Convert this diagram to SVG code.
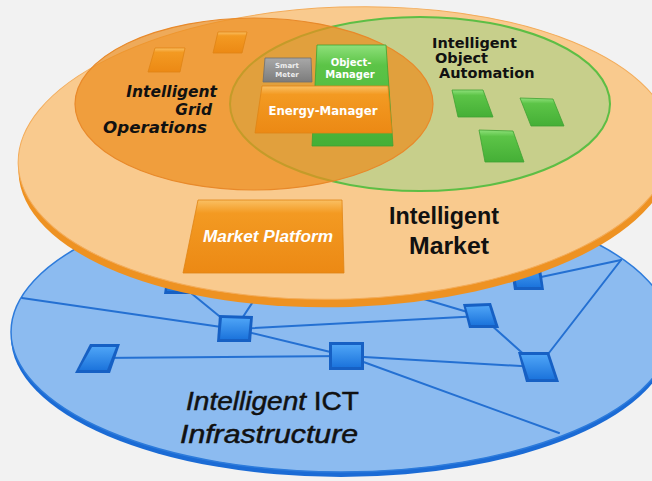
<svg xmlns="http://www.w3.org/2000/svg" width="652" height="481" viewBox="0 0 652 481">
<defs>
<style>
.lbl{font-family:"Liberation Sans",Arial,sans-serif;fill:#111}
.v{font-family:"DejaVu Sans",Verdana,sans-serif;font-weight:bold}
.w{fill:#fff}
.net{stroke:#2470D2;stroke-width:2;fill:none;stroke-linecap:round}
.bo{fill:#1660C4}
.bi{fill:url(#gBl)}
.og{fill:url(#gOr);stroke:#E08414;stroke-width:0.8}
.gg{fill:url(#gGr);stroke:#3FA232;stroke-width:0.8}
</style>
<linearGradient id="gOr" x1="0" y1="0" x2="0" y2="1">
<stop offset="0" stop-color="#FAC063"/><stop offset="0.18" stop-color="#F39A22"/><stop offset="1" stop-color="#EC8914"/>
</linearGradient>
<linearGradient id="gGr" x1="0" y1="0" x2="0" y2="1">
<stop offset="0" stop-color="#8EE07A"/><stop offset="0.2" stop-color="#5CC447"/><stop offset="1" stop-color="#45AF36"/>
</linearGradient>
<linearGradient id="gBl" x1="0" y1="0" x2="0" y2="1">
<stop offset="0" stop-color="#4EA4F6"/><stop offset="1" stop-color="#1C74DC"/>
</linearGradient>
<linearGradient id="gGy" x1="0" y1="0" x2="0" y2="1">
<stop offset="0" stop-color="#A8A8A8"/><stop offset="1" stop-color="#7C7C7C"/>
</linearGradient>
</defs>
<rect width="652" height="481" fill="#F2F2F2"/>

<g id="ict-layer">
<ellipse cx="341" cy="337" rx="330" ry="140" fill="#1B6BD5"/>
<ellipse cx="341" cy="332" rx="330" ry="140" fill="#8CBBF0" stroke="#2D7BDB" stroke-width="1.5"/>
</g>

<g id="connectors">
<line class="net" x1="22" y1="298" x2="235" y2="329"/>
<line class="net" x1="180" y1="284" x2="235" y2="329"/>
<line class="net" x1="235" y1="329" x2="262" y2="288"/>
<line class="net" x1="235" y1="329" x2="481" y2="316"/>
<line class="net" x1="235" y1="329" x2="347" y2="356"/>
<line class="net" x1="97" y1="358" x2="347" y2="356"/>
<line class="net" x1="400" y1="292" x2="481" y2="316"/>
<line class="net" x1="481" y1="316" x2="538" y2="367"/>
<line class="net" x1="347" y1="356" x2="538" y2="367"/>
<line class="net" x1="347" y1="356" x2="559" y2="433"/>
<line class="net" x1="538" y1="367" x2="621" y2="260"/>
<line class="net" x1="621" y1="260" x2="527" y2="280"/>
</g>

<g id="net-node-h1"><polygon class="bo" points="168,266 198,266 194,294 164,294"/><polygon class="bi" points="171,269 195,269 191,291 167,291"/></g>
<g id="net-node-f"><polygon class="bo" points="510,262 540,262 544,290 514,290"/><polygon class="bi" points="513,265 537,265 541,287 517,287"/></g>
<g id="net-node-a"><polygon class="bo" points="219,315 253,316 251,342 217,342"/><polygon class="bi" points="222,318 250,319 248,339 220,339"/></g>
<g id="net-node-b"><polygon class="bo" points="90,344 120,344 110,373 75,373"/><polygon class="bi" points="92,347 116,347 107,370 79,370"/></g>
<g id="net-node-c"><polygon class="bo" points="329,342 364,342 364,370 329,370"/><polygon class="bi" points="332,345 361,345 361,367 332,367"/></g>
<g id="net-node-d"><polygon class="bo" points="463,304 491,303 499,328 469,328"/><polygon class="bi" points="466,307 489,306 495,325 471,325"/></g>
<g id="net-node-e"><polygon class="bo" points="518,352 549,352 559,382 526,382"/><polygon class="bi" points="521,355 547,355 555,379 529,379"/></g>

<g id="market-layer" transform="rotate(-2 345 153)">
<ellipse cx="345" cy="161" rx="327" ry="146" fill="#EE9222"/>
<ellipse cx="345" cy="153" rx="327" ry="146" fill="#F9CA8E" stroke="#F3AC5A" stroke-width="1"/>
</g>

<g id="object-automation">
<ellipse cx="420" cy="104" rx="190" ry="87" fill="#C7CF8B" stroke="#5DBE45" stroke-width="2"/>
</g>
<g id="grid-operations">
<ellipse cx="254" cy="104" rx="179" ry="86" fill="#EC8E1E" fill-opacity="0.72" stroke="#E8892A" stroke-width="1.2"/>
</g>

<g id="grid-sq1"><polygon class="og" points="155,48 185,48 180,72 148,72"/></g>
<g id="grid-sq2"><polygon class="og" points="218,32 247,32 242,53 213,53"/></g>

<g id="obj-sq1"><polygon class="gg" points="452,90 483,90 493,117 458,117"/></g>
<g id="obj-sq2"><polygon class="gg" points="520,98 553,99 564,126 531,126"/></g>
<g id="obj-sq3"><polygon class="gg" points="479,130 513,131 524,162 485,162"/></g>

<g id="object-manager">
<polygon class="gg" points="317,45 386,45 393,146 312,146"/>
<text class="v w" x="351" y="66" font-size="10" text-anchor="middle">Object-</text>
<text class="v w" x="350" y="78" font-size="10" text-anchor="middle">Manager</text>
</g>

<g id="smart-meter">
<polygon points="265,58 311,58 312,82 263,82" fill="url(#gGy)" stroke="#6E6E6E" stroke-width="0.8"/>
<text class="v" x="287" y="68" font-size="7" text-anchor="middle" fill="#EEE">Smart</text>
<text class="v" x="287" y="77" font-size="7" text-anchor="middle" fill="#EEE">Meter</text>
</g>

<g id="energy-manager">
<polygon class="og" points="262,86 388,86 392,133 255,133"/>
<text class="v w" x="323" y="115" font-size="12" text-anchor="middle" textLength="109" lengthAdjust="spacingAndGlyphs">Energy-Manager</text>
</g>

<g id="market-platform">
<polygon class="og" points="198,200 342,200 344,273 183,273"/>
<text class="lbl w" x="203" y="242" font-size="16" font-weight="bold" font-style="italic" textLength="130" lengthAdjust="spacingAndGlyphs">Market Platform</text>
</g>

<g id="labels">
<text class="v" font-style="italic" font-size="15.5" fill="#111" x="217" y="97" text-anchor="end">Intelligent</text>
<text class="v" font-style="italic" font-size="15.5" fill="#111" x="212" y="115" text-anchor="end">Grid</text>
<text class="v" font-style="italic" font-size="15.5" fill="#111" x="103" y="133" textLength="104" lengthAdjust="spacingAndGlyphs">Operations</text>

<text class="v" font-size="14.5" fill="#111" x="432" y="48">Intelligent</text>
<text class="v" font-size="14.5" fill="#111" x="435" y="63">Object</text>
<text class="v" font-size="14.5" fill="#111" x="439" y="78">Automation</text>

<text class="lbl" font-size="23" font-weight="bold" x="389" y="224" textLength="110" lengthAdjust="spacingAndGlyphs">Intelligent</text>
<text class="lbl" font-size="23" font-weight="bold" x="409" y="254" textLength="80" lengthAdjust="spacingAndGlyphs">Market</text>

<text class="lbl" font-size="26" x="186" y="410" stroke="#111" stroke-width="0.5" textLength="173" lengthAdjust="spacingAndGlyphs"><tspan font-style="italic">Intelligent</tspan> ICT</text>
<text class="lbl" font-size="26" font-style="italic" x="180" y="443" stroke="#111" stroke-width="0.5" textLength="178" lengthAdjust="spacingAndGlyphs">Infrastructure</text>
</g>
</svg>
